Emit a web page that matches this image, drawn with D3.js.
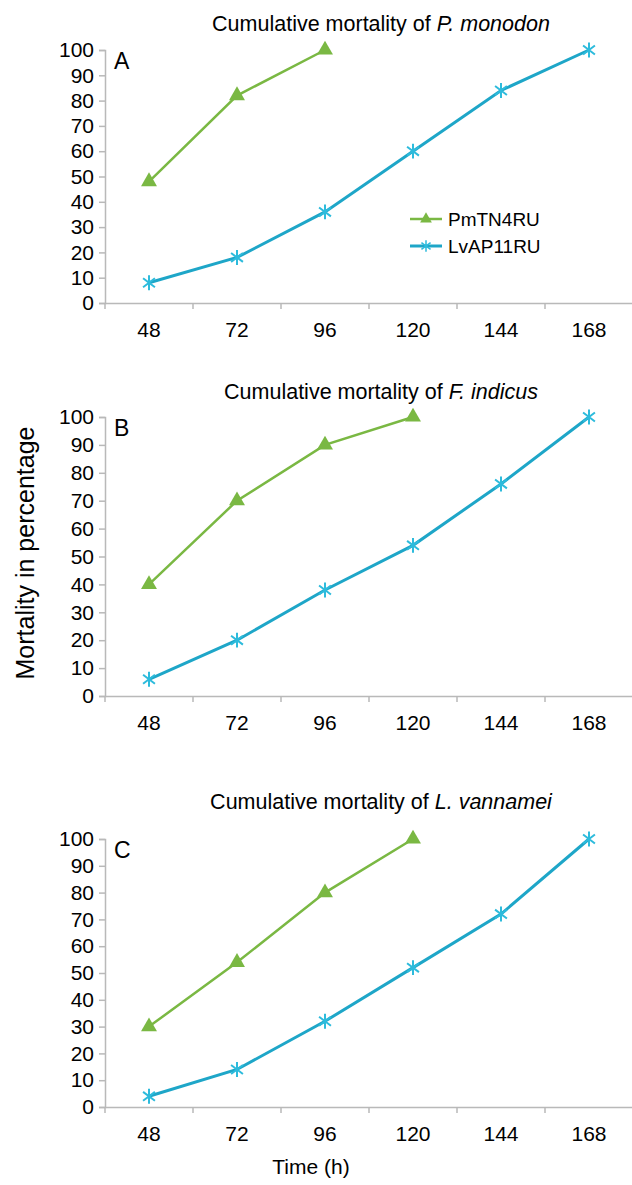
<!DOCTYPE html>
<html>
<head>
<meta charset="utf-8">
<script src="https://cdn.jsdelivr.net/npm/d3@7"></script>
<style>
  body { margin: 0; background: #fff; }
  text { font-family: "Liberation Sans", Arial, Helvetica, sans-serif; fill: #000; }
</style>
</head>
<body>
<div id="chart-area"></div>
<script>
// data
let hours = ["48", "72", "96", "120", "144", "168"];
let yTicks = [0, 10, 20, 30, 40, 50, 60, 70, 80, 90, 100];
let seriesNames = ["PmTN4RU", "LvAP11RU"];

let pmA = [48, 82, 100];
let lvA = [8, 18, 36, 60, 84, 100];
let pmB = [40, 70, 90, 100];
let lvB = [6, 20, 38, 54, 76, 100];
let pmC = [30, 54, 80, 100];
let lvC = [4, 14, 32, 52, 72, 100];

let letters = ["A", "B", "C"];
let species = ["P. monodon", "F. indicus", "L. vannamei"];

let green = "#7ab843";
let blue = "#1ea6c8";
let blueMark = "#2dbbdc";
let axisGrey = "#b9b9b9";

// panel layout (top = y of 100, bottom = y of 0)
let panels = [
  { letter: letters[0], sp: species[0], pm: pmA, lv: lvA, top: 50, bottom: 303, titleY: 31, legend: true },
  { letter: letters[1], sp: species[1], pm: pmB, lv: lvB, top: 417, bottom: 696, titleY: 399, legend: false },
  { letter: letters[2], sp: species[2], pm: pmC, lv: lvC, top: 839, bottom: 1107, titleY: 809, legend: false }
];

let W = 632, H = 1185;
let left = 105, right = 633;

let svg = d3.select("#chart-area")
  .append("svg")
  .attr("width", W)
  .attr("height", H);

let xScale = d3.scaleBand()
  .domain(hours)
  .range([left, right]);

// asterisk marker: vertical bar plus an X
let star = {
  draw: function(ctx, size) {
    let r = Math.sqrt(size) / 2;
    let a = r * 0.8;
    ctx.moveTo(0, -r); ctx.lineTo(0, r);
    ctx.moveTo(-a, -a * 0.75); ctx.lineTo(a, a * 0.75);
    ctx.moveTo(-a, a * 0.75); ctx.lineTo(a, -a * 0.75);
  }
};

panels.forEach(function(p) {
  let yScale = d3.scaleLinear()
    .domain([0, 100])
    .range([p.bottom, p.top]);

  let g = svg.append("g");

  // title
  let title = g.append("text")
    .attr("x", 381)
    .attr("y", p.titleY)
    .attr("text-anchor", "middle")
    .attr("font-size", "21.5px");
  title.append("tspan").text("Cumulative mortality of ");
  title.append("tspan").attr("font-style", "italic").text(p.sp);

  // y axis
  let yAxis = d3.axisLeft(yScale).tickValues(yTicks).tickSize(6).tickPadding(5);
  let ya = g.append("g")
    .attr("transform", "translate(" + left + ",0)")
    .call(yAxis);
  ya.select(".domain").attr("stroke", axisGrey).attr("stroke-width", 1.5);
  ya.selectAll(".tick line").attr("stroke", axisGrey).attr("stroke-width", 1.5);
  ya.selectAll(".tick text")
    .attr("font-size", "21px")
    .attr("font-family", "Liberation Sans, Arial, sans-serif")
    .attr("fill", "#000");

  // x axis: labels under band centres, ticks on band edges
  let xAxis = d3.axisBottom(xScale).tickSize(0).tickPadding(19);
  let xa = g.append("g")
    .attr("transform", "translate(0," + p.bottom + ")")
    .call(xAxis);
  xa.select(".domain").attr("stroke", axisGrey).attr("stroke-width", 1.5);
  xa.selectAll(".tick text")
    .attr("font-size", "21px")
    .attr("font-family", "Liberation Sans, Arial, sans-serif")
    .attr("fill", "#000");

  g.selectAll(".xedge")
    .data(hours)
    .enter()
    .append("line")
    .attr("x1", function(d) { return xScale(d); })
    .attr("x2", function(d) { return xScale(d); })
    .attr("y1", p.bottom)
    .attr("y2", p.bottom + 6)
    .attr("stroke", axisGrey)
    .attr("stroke-width", 1.5);

  // panel letter
  g.append("text")
    .attr("x", 114)
    .attr("y", p.top + 19)
    .attr("font-size", "23px")
    .text(p.letter);

  let line = d3.line()
    .x(function(d, i) { return xScale(hours[i]) + xScale.bandwidth() / 2; })
    .y(function(d) { return yScale(d); });

  // LvAP11RU
  g.append("path")
    .datum(p.lv)
    .attr("d", line)
    .attr("fill", "none")
    .attr("stroke", blue)
    .attr("stroke-width", 3);

  g.selectAll(".lvmark")
    .data(p.lv)
    .enter()
    .append("path")
    .attr("transform", function(d, i) {
      return "translate(" + (xScale(hours[i]) + xScale.bandwidth() / 2) + "," + yScale(d) + ")";
    })
    .attr("d", d3.symbol().type(star).size(220))
    .attr("fill", "none")
    .attr("stroke", blueMark)
    .attr("stroke-width", 2);

  // PmTN4RU
  g.append("path")
    .datum(p.pm)
    .attr("d", line)
    .attr("fill", "none")
    .attr("stroke", green)
    .attr("stroke-width", 2.5);

  g.selectAll(".pmmark")
    .data(p.pm)
    .enter()
    .append("path")
    .attr("transform", function(d, i) {
      return "translate(" + (xScale(hours[i]) + xScale.bandwidth() / 2) + "," + yScale(d) + ")";
    })
    .attr("d", d3.symbol().type(d3.symbolTriangle).size(110))
    .attr("fill", green);

  if (p.legend) {
    let lg = g.append("g").attr("transform", "translate(410,219)");
    [green, blue].forEach(function(c, i) {
      lg.append("line")
        .attr("x1", 0).attr("x2", 32)
        .attr("y1", i * 27).attr("y2", i * 27)
        .attr("stroke", c)
        .attr("stroke-width", i == 0 ? 2.5 : 3);
      lg.append("path")
        .attr("transform", "translate(16," + (i * 27) + ")")
        .attr("d", i == 0 ? d3.symbol().type(d3.symbolTriangle).size(60)()
                          : d3.symbol().type(star).size(130)())
        .attr("fill", i == 0 ? green : "none")
        .attr("stroke", i == 0 ? "none" : blueMark)
        .attr("stroke-width", 1.5);
      lg.append("text")
        .attr("x", 38)
        .attr("y", i * 27 + 7)
        .attr("font-size", "19px")
        .text(seriesNames[i]);
    });
  }
});

// shared axis titles
svg.append("text")
  .attr("transform", "translate(34,553) rotate(-90)")
  .attr("text-anchor", "middle")
  .attr("font-size", "25px")
  .text("Mortality in percentage");

svg.append("text")
  .attr("x", 311)
  .attr("y", 1174)
  .attr("text-anchor", "middle")
  .attr("font-size", "21px")
  .text("Time (h)");
</script>
</body>
</html>
